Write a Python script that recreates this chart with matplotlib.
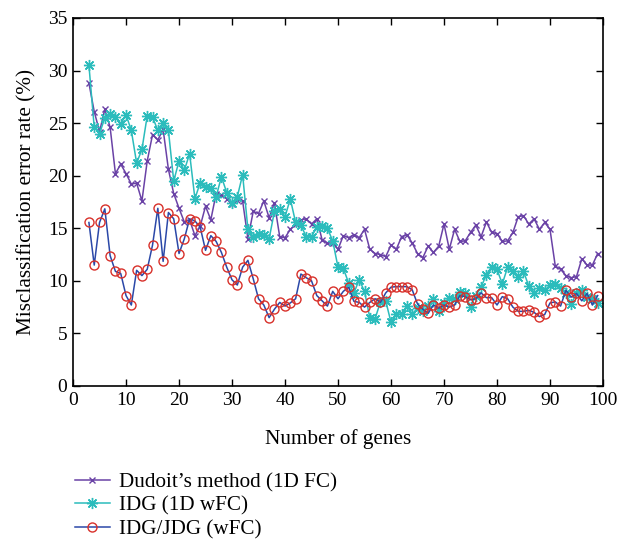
import matplotlib
matplotlib.use("Agg")
import matplotlib.pyplot as plt
import numpy as np

genes = list(range(3, 100))

dudoit = [28.8, 26.1, 24.2, 26.3, 24.6, 20.2, 21.1, 20.2, 19.2, 19.3,
          17.6, 21.4, 23.9, 23.4, 24.4, 20.6, 18.3, 16.9, 15.6, 15.8,
          14.3, 15.2, 17.1, 15.8, 18.3, 18.2, 17.8, 17.3, 17.7, 17.6,
          14.0, 16.6, 16.4, 17.6, 16.0, 17.4, 14.2, 14.1, 14.9, 15.4,
          15.8, 15.9, 15.4, 15.9, 13.9, 13.6, 13.6, 13.0, 14.3, 14.1,
          14.4, 14.1, 14.9, 13.0, 12.6, 12.5, 12.3, 13.4, 13.0, 14.2,
          14.4, 13.6, 12.6, 12.2, 13.3, 12.7, 13.3, 15.4, 13.0, 14.9,
          13.75, 13.8, 14.6, 15.3, 14.2, 15.6, 14.6, 14.5, 13.75, 13.8,
          14.6, 16.1, 16.2, 15.4, 15.9, 14.9, 15.55, 14.9, 11.4, 11.1,
          10.5, 10.3, 10.4, 12.1, 11.5, 11.5, 12.6]

idg_1d = [30.5, 24.6, 24.0, 25.5, 25.85, 25.6, 24.9, 25.8, 24.3, 21.2,
          22.5, 25.7, 25.6, 24.3, 25.0, 24.3, 19.5, 21.4, 20.5, 22.1,
          17.8, 19.35, 18.9, 18.8, 18.0, 19.9, 18.4, 17.4, 18.0, 20.1,
          14.9, 14.2, 14.5, 14.4, 14.0, 16.6, 16.8, 16.1, 17.8, 15.55,
          15.3, 14.2, 14.2, 15.1, 15.2, 15.0, 13.8, 11.3, 11.2, 9.8,
          8.85, 10.1, 9.0, 6.5, 6.4, 8.0, 8.1, 6.05, 6.8, 6.85,
          7.6, 6.85, 7.4, 7.1, 7.6, 8.3, 7.1, 7.9, 8.4, 8.25,
          8.9, 8.8, 7.5, 8.6, 9.4, 10.6, 11.35, 11.1, 9.7, 11.3,
          10.9, 10.4, 10.9, 9.5, 8.8, 9.3, 9.1, 9.6, 9.7, 9.3,
          8.8, 7.8, 8.8, 9.1, 8.5, 8.3, 7.9]

idg_jdg = [15.55, 11.5, 15.55, 16.85, 12.4, 10.9, 10.7, 8.6, 7.7, 11.0,
           10.5, 11.1, 13.4, 16.9, 11.85, 16.5, 15.9, 12.6, 14.0, 15.9,
           15.7, 15.1, 12.9, 14.3, 13.75, 12.7, 11.3, 10.1, 9.6, 11.3,
           11.95, 10.2, 8.3, 7.7, 6.5, 7.3, 7.95, 7.6, 7.9, 8.3,
           10.65, 10.3, 10.0, 8.6, 8.1, 7.6, 9.0, 8.3, 9.0, 9.4,
           8.05, 7.95, 7.5, 7.95, 8.3, 7.95, 8.85, 9.4, 9.45, 9.45,
           9.45, 9.15, 7.8, 7.3, 6.9, 7.7, 7.4, 7.7, 7.5, 7.7,
           8.6, 8.5, 8.2, 8.3, 8.85, 8.4, 8.4, 7.7, 8.5, 8.3,
           7.5, 7.1, 7.1, 7.2, 7.0, 6.6, 6.8, 7.9, 8.0, 7.6,
           9.1, 8.45, 8.8, 8.1, 8.8, 7.7, 8.6]

labels = ["Dudoit\u2019s method (1D FC)", "IDG (1D wFC)", "IDG/JDG (wFC)"]

plt.rcParams['font.family'] = ['Liberation Serif', 'DejaVu Serif']

fig = plt.figure(figsize=(6.21, 5.40), dpi=100)
ax = fig.add_axes([0.1176, 0.2852, 0.8534, 0.6815])

ax.plot(genes, dudoit, color='#6a42a6', lw=1.1, marker='x', ms=4.5,
        mew=1.0, label=labels[0])
ax.plot(genes, idg_1d, color='#2bbcbc', lw=1.1, marker=(8, 2, 0), ms=8,
        mew=1.0, label=labels[1])
ax.plot(genes, idg_jdg, color='#2b48a8', lw=1.1, marker='o', ms=6.5,
        mfc='none', mec='#d8302a', mew=1.0, label=labels[2])

ax.set_xlim(0, 100)
ax.set_ylim(0, 35)
ax.set_xticks(np.arange(0, 101, 10))
ax.set_yticks(np.arange(0, 36, 5))
ax.tick_params(direction='in', top=True, right=True, length=5,
               labelsize=14, width=1, pad=4)
for s in ax.spines.values():
    s.set_linewidth(1.2)
ax.set_xlabel('Number of genes', fontsize=15.3, labelpad=15)
ax.set_ylabel('Misclassification error rate (%)', fontsize=15.3, labelpad=8)

fig.legend(loc='upper left', bbox_to_anchor=(0.12, 0.125), frameon=False,
           fontsize=15.2, handlelength=1.66, handletextpad=0.47,
           labelspacing=0.18, borderaxespad=0, borderpad=0)

fig.savefig('out.png', dpi=100)
